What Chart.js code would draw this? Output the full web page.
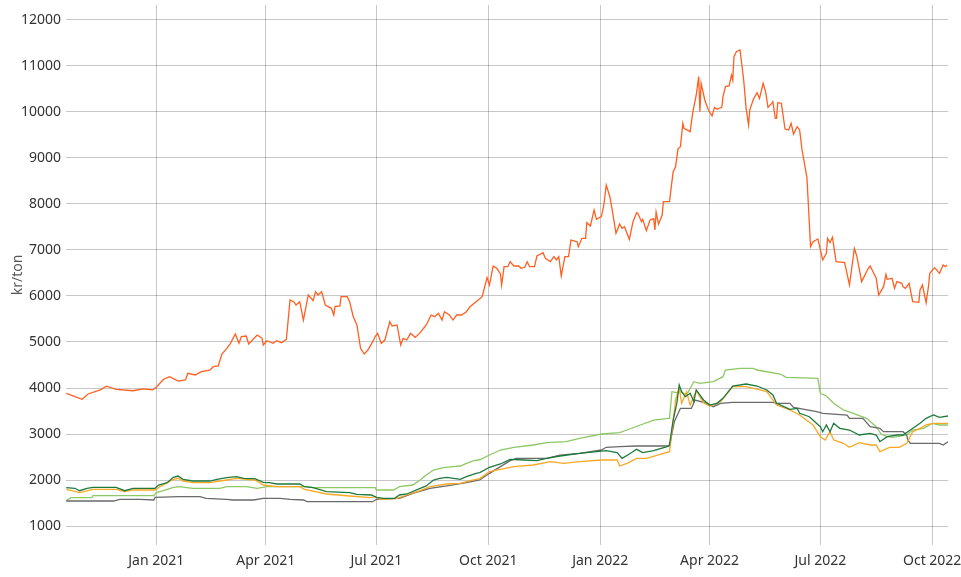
<!DOCTYPE html>
<html>
<head>
<meta charset="utf-8">
<script src="https://cdn.jsdelivr.net/npm/chart.js@4/dist/chart.umd.min.js"></script>
<style>
  html, body { margin: 0; padding: 0; background: #ffffff; }
  #wrap { width: 961px; height: 577px; }
</style>
</head>
<body>
<div id="wrap"><canvas id="c" width="961" height="577"></canvas></div>
<script>
// x values are days counted from 1 Jan 2021
const tickDays = [0, 90, 181, 273, 365, 455, 546, 638];
const tickLabels = ['Jan 2021', 'Apr 2021', 'Jul 2021', 'Oct 2021', 'Jan 2022', 'Apr 2022', 'Jul 2022', 'Oct 2022'];
const yTicks = [1000, 2000, 3000, 4000, 5000, 6000, 7000, 8000, 9000, 10000, 11000, 12000];
const yTitle = 'kr/ton';

const seriesNames = ['Serie 1', 'Serie 2', 'Serie 3', 'Serie 4', 'Serie 5'];

const orangeSeries = [
  [-74,3885],[-61,3755],[-56,3870],[-46,3960],[-41,4040],[-33,3970],[-19,3940],[-11,3980],[-3,3960],[0,4015],
  [6,4190],[11,4245],[18,4150],[24,4175],[26,4320],[32,4283],[37,4355],[44,4390],[47,4463],[51,4478],
  [54,4739],[58,4863],[61,4972],[65,5174],[68,4972],[70,5115],[74,5130],[76,4956],[83,5152],[87,5080],
  [88,4935],[91,5028],[96,4972],[99,5028],[103,4985],[107,5058],[110,5913],[113,5876],[115,5804],[118,5876],
  [121,5478],[125,6022],[129,5898],[131,6094],[133,6022],[136,6094],[139,5804],[144,5732],[146,5587],[147,5768],
  [151,5783],[152,5985],[157,5985],[159,5876],[162,5550],[165,5370],[168,4863],[171,4739],[174,4826],[178,5007],
  [180,5115],[182,5188],[185,4972],[188,5043],[192,5441],[194,5348],[198,5370],[201,4935],[203,5080],[206,5043],
  [209,5188],[213,5101],[217,5203],[222,5370],[226,5587],[229,5550],[232,5623],[235,5478],[237,5659],[241,5587],
  [244,5478],[247,5587],[251,5587],[255,5659],[258,5768],[263,5876],[268,5985],[272,6400],[274,6239],[277,6650],
  [280,6602],[283,6480],[284,6239],[286,6637],[289,6637],[291,6746],[294,6652],[298,6652],[300,6602],[303,6624],
  [305,6746],[307,6637],[311,6637],[313,6870],[318,6941],[320,6819],[324,6746],[327,6855],[329,6783],[331,6855],
  [333,6435],[336,6855],[339,6855],[341,7217],[346,7181],[347,7072],[350,7254],[353,7254],[354,7594],[357,7522],
  [360,7870],[362,7667],[366,7725],[368,7978],[370,8413],[373,8159],[375,7855],[378,7362],[381,7565],[383,7471],
  [385,7507],[389,7232],[392,7616],[395,7812],[396,7797],[399,7616],[400,7667],[403,7420],[406,7652],[409,7680],
  [410,7435],[411,7822],[413,7560],[416,7760],[417,8051],[422,8051],[425,8700],[427,8811],[429,9200],[431,9246],
  [433,9754],[434,9645],[439,9572],[441,9971],[444,10370],[446,10768],[447,10007],[448,10623],[451,10261],[454,10043],
  [457,9913],[459,10101],[461,10058],[465,10101],[466,10333],[468,10551],[471,10565],[473,10804],[474,10696],[475,11203],
  [477,11312],[480,11348],[483,10696],[485,10080],[487,9717],[488,10043],[491,10276],[494,10420],[496,10297],[499,10623],
  [501,10442],[503,10101],[506,10188],[507,10224],[509,9862],[510,9862],[511,10202],[514,10188],[517,9630],[520,9609],
  [522,9754],[524,9522],[527,9681],[529,9609],[531,9174],[535,8580],[538,7072],[540,7180],[544,7240],[548,6783],
  [551,6930],[552,7254],[554,7159],[556,7275],[559,6746],[566,6724],[570,6239],[574,7036],[576,6870],[580,6312],
  [585,6580],[587,6652],[592,6385],[594,6022],[598,6203],[600,6471],[601,6363],[605,6385],[607,6167],[609,6312],
  [613,6276],[614,6203],[616,6167],[619,6276],[622,5876],[627,5862],[628,6130],[630,6239],[633,5855],[635,6217],
  [636,6493],[640,6616],[644,6493],[647,6674],[649,6638],[650,6674]
];

const darkGreenSeries = [
  [-74,1833],[-67,1820],[-63,1767],[-57,1820],[-52,1841],[-33,1841],[-26,1767],[-19,1820],[-1,1820],[2,1891],
  [9,1942],[14,2058],[18,2087],[22,2015],[30,1978],[44,1978],[50,2015],[58,2050],[66,2072],[72,2037],
  [81,2028],[88,1950],[93,1942],[99,1913],[118,1913],[122,1854],[129,1833],[140,1746],[159,1724],[165,1689],
  [177,1674],[181,1624],[187,1602],[196,1602],[200,1674],[206,1696],[217,1820],[222,1870],[228,2000],[233,2037],
  [239,2058],[250,2015],[255,2072],[263,2145],[266,2159],[274,2276],[283,2348],[291,2450],[302,2435],[313,2420],
  [321,2471],[332,2522],[348,2580],[362,2616],[370,2637],[379,2594],[383,2471],[389,2565],[395,2667],[400,2594],
  [409,2637],[420,2724],[422,2761],[425,3304],[428,3667],[430,4065],[432,3920],[435,3811],[439,3885],[442,3702],
  [444,3957],[450,3739],[455,3630],[461,3667],[466,3776],[474,4043],[485,4087],[494,4043],[502,3957],[507,3848],
  [510,3667],[521,3537],[527,3558],[529,3450],[537,3376],[546,3159],[548,3050],[551,3196],[554,3050],[557,3232],
  [562,3124],[570,3087],[578,2978],[587,3015],[592,2978],[595,2833],[601,2941],[609,2978],[614,2978],[620,3087],
  [628,3232],[633,3341],[639,3413],[644,3363],[651,3391]
];

const yellowSeries = [
  [-74,1798],[-63,1724],[-52,1798],[-33,1798],[-26,1746],[-19,1783],[-1,1783],[3,1854],[14,2015],[18,2037],
  [22,1978],[30,1942],[44,1942],[58,2000],[66,2037],[81,2000],[88,1891],[99,1854],[118,1854],[122,1798],
  [140,1696],[159,1652],[176,1616],[180,1637],[184,1580],[198,1602],[206,1674],[217,1767],[225,1854],[239,1913],
  [250,1928],[258,1985],[266,2030],[274,2181],[283,2232],[294,2290],[310,2326],[324,2398],[335,2363],[348,2398],
  [366,2435],[379,2435],[381,2304],[387,2363],[395,2471],[403,2471],[415,2565],[422,2616],[425,3268],[427,3739],
  [430,4000],[432,3667],[436,3920],[439,3630],[444,3941],[450,3681],[455,3609],[464,3702],[474,4029],[485,4029],
  [502,3920],[510,3630],[521,3522],[529,3413],[540,3196],[546,2941],[550,2870],[554,3050],[557,2870],[565,2798],
  [570,2711],[578,2811],[587,2761],[592,2761],[595,2616],[603,2711],[611,2711],[617,2798],[622,3050],[628,3124],
  [633,3196],[639,3232],[651,3232]
];

const lightGreenSeries = [
  [-74,1550],[-70,1616],[-53,1616],[-52,1659],[-2,1659],[0,1724],[6,1767],[14,1841],[19,1854],[30,1820],
  [52,1820],[58,1854],[74,1854],[83,1820],[91,1854],[124,1854],[129,1833],[180,1833],[181,1783],[195,1783],
  [200,1854],[211,1891],[217,2000],[222,2109],[228,2217],[236,2268],[244,2290],[250,2304],[255,2363],[261,2420],
  [266,2440],[274,2543],[283,2652],[294,2711],[310,2761],[321,2811],[337,2833],[348,2906],[366,3000],[381,3029],
  [387,3087],[398,3196],[409,3304],[421,3341],[422,3341],[424,3920],[428,3898],[431,3920],[436,3848],[442,4137],
  [447,4102],[458,4137],[466,4246],[468,4391],[480,4428],[491,4428],[494,4391],[513,4304],[518,4233],[544,4210],
  [546,3885],[551,3826],[557,3667],[565,3522],[573,3450],[584,3341],[592,3159],[596,3000],[601,2941],[606,2928],
  [617,2978],[622,3087],[631,3124],[638,3232],[644,3196],[651,3196]
];

const greySeries = [
  [-74,1543],[-35,1543],[-30,1580],[-13,1580],[-2,1565],[-1,1624],[19,1637],[36,1637],[41,1602],[58,1580],
  [63,1565],[80,1565],[88,1602],[102,1602],[110,1580],[121,1565],[124,1528],[178,1528],[181,1580],[200,1602],
  [211,1711],[225,1820],[239,1870],[255,1942],[266,2000],[274,2145],[283,2290],[291,2420],[296,2471],[321,2471],
  [332,2543],[348,2580],[366,2652],[370,2711],[381,2724],[395,2739],[422,2739],[426,3268],[431,3558],[440,3558],
  [443,3739],[453,3667],[458,3594],[464,3667],[474,3689],[507,3689],[510,3667],[521,3667],[524,3580],[543,3485],
  [548,3450],[568,3413],[570,3341],[581,3341],[587,3159],[595,3124],[598,3050],[614,3050],[617,2978],[618,2870],
  [620,2798],[644,2798],[647,2761],[651,2833]
];

const toXY = arr => arr.map(p => ({ x: p[0], y: p[1] }));

function mkSet(label, pts, color, order) {
  return {
    label: label,
    data: toXY(pts),
    borderColor: color,
    backgroundColor: color,
    borderWidth: 1.3,
    pointRadius: 0,
    tension: 0,
    fill: false,
    order: order
  };
}

function noScalePadding(s) {
  s.paddingTop = 0;
  s.paddingBottom = 0;
  s.paddingLeft = 0;
  s.paddingRight = 0;
}

const FONT = '"Noto Sans", "DejaVu Sans", sans-serif';

new Chart(document.getElementById('c'), {
  type: 'line',
  data: {
    datasets: [
      mkSet(seriesNames[0], orangeSeries, '#ff5f1f', 1),
      mkSet(seriesNames[1], lightGreenSeries, '#8cc864', 5),
      mkSet(seriesNames[2], greySeries, '#6a6a6a', 4),
      mkSet(seriesNames[3], yellowSeries, '#f9a825', 3),
      mkSet(seriesNames[4], darkGreenSeries, '#1e7a3c', 2)
    ]
  },
  options: {
    responsive: false,
    animation: false,
    layout: { autoPadding: false, padding: { top: 5, right: 13, bottom: 0, left: 0 } },
    plugins: {
      legend: { display: false },
      tooltip: { enabled: false },
      title: { display: false }
    },
    scales: {
      x: {
        type: 'linear',
        min: -74.2,
        max: 651,
        afterBuildTicks: s => { s.ticks = tickDays.map(v => ({ value: v })); },
        afterFit: s => { s.height = 32; noScalePadding(s); },
        ticks: {
          autoSkip: false,
          maxRotation: 0,
          padding: 8,
          color: '#333333',
          font: { family: FONT, size: 14 },
          callback: (v, i) => tickLabels[i]
        },
        grid: { color: 'rgba(0,0,0,0.22)', lineWidth: 1, drawTicks: false },
        border: { display: false }
      },
      y: {
        min: 587,
        max: 12326,
        afterBuildTicks: s => { s.ticks = yTicks.map(v => ({ value: v })); },
        afterFit: s => { s.width = 66; noScalePadding(s); },
        ticks: {
          padding: 5,
          color: '#333333',
          font: { family: FONT, size: 14 },
          callback: v => String(v)
        },
        grid: { color: 'rgba(0,0,0,0.22)', lineWidth: 1, drawTicks: false },
        border: { display: false },
        title: {
          display: true,
          text: yTitle,
          color: '#555555',
          font: { family: FONT, size: 14 },
          padding: { top: 10, bottom: 0 }
        }
      }
    }
  }
});
</script>
</body>
</html>
